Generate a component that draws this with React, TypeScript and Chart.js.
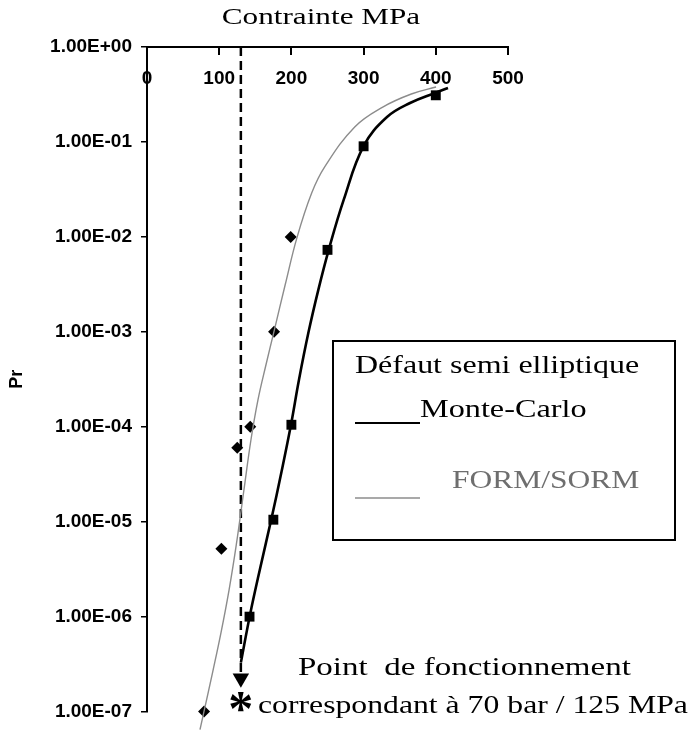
import React, { useEffect, useRef } from 'react';
import { Chart, registerables } from 'chart.js';

Chart.register(...registerables);

// ---- data ----
const xTickValues = [0, 100, 200, 300, 400, 500];
const yTickValues = [1e-7, 1e-6, 1e-5, 1e-4, 1e-3, 1e-2, 1e-1, 1];

// Monte-Carlo markers (squares)
const monteCarloStress = [142, 175, 200, 250, 300, 400];
const monteCarloPr = [1e-6, 1.05e-5, 1.05e-4, 7.3e-3, 9e-2, 0.31];

// FORM/SORM markers (diamonds)
const formStress = [79, 103, 125, 143, 176, 199];
const formPr = [1e-7, 5.2e-6, 6e-5, 1e-4, 1e-3, 1e-2];

// Monte-Carlo fitted curve (thick black)
const monteCarloCurveStress = [130, 142.7, 157.2, 172.4, 186.3, 199.4, 210.5, 223.8, 237.3, 251.7, 272.4, 300.1, 332.4, 364.3, 398.9, 416.9];
const monteCarloCurvePr = [3.28e-7, 1.05e-6, 3.36e-6, 1.08e-5, 3.36e-5, 1.05e-4, 3.13e-4, 1e-3, 2.77e-3, 7.3e-3, 2.45e-2, 9.08e-2, 0.183, 0.257, 0.328, 0.37];

// FORM/SORM fitted curve (thin grey)
const formCurveStress = [73.4, 78.9, 91.1, 102.5, 113.7, 123.7, 134.3, 144, 153.7, 164.8, 176.2, 191.4, 208, 228.1, 246.1, 287.7, 326.5, 366.1, 400.3];
const formCurvePr = [6.47e-8, 1e-7, 2.64e-7, 6.79e-7, 1.92e-6, 5.73e-6, 2.17e-5, 7.3e-5, 1.92e-4, 4.5e-4, 1.03e-3, 3.13e-3, 1e-2, 2.9e-2, 5.46e-2, 0.144, 0.233, 0.32, 0.379];

// Operating point (70 bar / 125 MPa)
const operatingStress = [130, 130];
const operatingLinePr = [1, 2.25e-7];
const operatingMarkPr = 1.34e-7;

const titleText = 'Contrainte MPa';
const yTitleText = 'Pr';
const legendTitle = 'Défaut semi elliptique';
const legendMonteCarlo = 'Monte-Carlo';
const legendForm = 'FORM/SORM';
const noteLine1 = 'Point  de fonctionnement';
const noteLine2 = 'correspondant à 70 bar / 125 MPa';

const toPoints = (xs: number[], ys: number[]) => xs.map((x, i) => ({ x, y: ys[i] }));

const fmtExp = (v: number) => {
  const e = Math.round(Math.log10(v));
  const m = v / Math.pow(10, e);
  return m.toFixed(2) + 'E' + (e < 0 ? '-' : '+') + String(Math.abs(e)).padStart(2, '0');
};

const SERIF = '"Liberation Serif", "Times New Roman", serif';
const SANS = '"Liberation Sans", Arial, sans-serif';

function drawStretched(ctx: CanvasRenderingContext2D, text: string, x: number, y: number, size: number, sx: number, align: CanvasTextAlign, color: string, weight = 'normal') {
  ctx.save();
  ctx.font = `${weight} ${size}px ${SERIF}`;
  ctx.fillStyle = color;
  ctx.textBaseline = 'alphabetic';
  ctx.textAlign = align;
  ctx.translate(x, y);
  ctx.scale(sx, 1);
  ctx.fillText(text, 0, 0);
  ctx.restore();
}

const annotationPlugin = {
  id: 'annotations',
  afterDraw(chart: any) {
    const ctx: CanvasRenderingContext2D = chart.ctx;
    const xs = chart.scales.x;
    const ys = chart.scales.y;
    const top = chart.chartArea.top;

    // inward tick marks on the top axis
    ctx.save();
    ctx.fillStyle = '#000';
    xTickValues.forEach((v) => {
      const px = Math.round(xs.getPixelForValue(v));
      ctx.fillRect(px - 1, top - 1, 2, 9);
    });
    ctx.restore();

    // title
    drawStretched(ctx, titleText, 321, 24, 24, 1.3, 'center', '#000');

    // legend box
    ctx.save();
    ctx.strokeStyle = '#000';
    ctx.lineWidth = 2;
    ctx.strokeRect(333, 341, 342, 199);
    ctx.restore();
    drawStretched(ctx, legendTitle, 355, 373, 26, 1.23, 'left', '#000');
    drawStretched(ctx, legendMonteCarlo, 420, 417, 26, 1.24, 'left', '#000');
    drawStretched(ctx, legendForm, 452, 488, 25, 1.26, 'left', '#6e6e6e');
    ctx.save();
    ctx.strokeStyle = '#000';
    ctx.lineWidth = 2;
    ctx.beginPath();
    ctx.moveTo(355, 423);
    ctx.lineTo(420, 423);
    ctx.stroke();
    ctx.strokeStyle = '#8c8c8c';
    ctx.lineWidth = 1.5;
    ctx.beginPath();
    ctx.moveTo(355, 498);
    ctx.lineTo(420, 498);
    ctx.stroke();
    ctx.restore();

    // operating point note
    drawStretched(ctx, noteLine1, 298, 675, 26, 1.27, 'left', '#000');
    drawStretched(ctx, noteLine2, 258, 713, 26, 1.22, 'left', '#000');

    // asterisk at the operating point
    const ax = xs.getPixelForValue(operatingStress[0]);
    const ay = ys.getPixelForValue(operatingMarkPr);
    ctx.save();
    ctx.font = `bold 50px ${SERIF}`;
    ctx.fillStyle = '#000';
    ctx.textAlign = 'center';
    ctx.textBaseline = 'alphabetic';
    ctx.fillText('*', ax, ay + 25);
    ctx.restore();
  },
};

export default function App() {
  const ref = useRef<HTMLCanvasElement | null>(null);

  useEffect(() => {
    if (!ref.current) return;
    const chart = new Chart(ref.current, {
      type: 'scatter',
      data: {
        datasets: [
          {
            label: legendForm,
            data: toPoints(formCurveStress, formCurvePr),
            showLine: true,
            borderColor: '#8c8c8c',
            borderWidth: 1.4,
            pointRadius: 0,
            tension: 0.4,
            clip: false,
          } as any,
          {
            label: legendMonteCarlo,
            data: toPoints(monteCarloCurveStress, monteCarloCurvePr),
            showLine: true,
            borderColor: '#000',
            borderWidth: 2.6,
            pointRadius: 0,
            tension: 0.4,
            clip: false,
          } as any,
          {
            label: 'operating',
            data: toPoints(operatingStress, operatingLinePr),
            showLine: true,
            borderColor: '#000',
            backgroundColor: '#000',
            borderWidth: 2.5,
            borderDash: [9, 5],
            pointRadius: [0, 9.5],
            pointStyle: 'triangle',
            pointRotation: 180,
            pointBorderWidth: 0,
            clip: false,
          } as any,
          {
            label: 'FORM points',
            data: toPoints(formStress, formPr),
            pointStyle: 'rectRot',
            pointRadius: 6,
            backgroundColor: '#000',
            borderColor: '#000',
            borderWidth: 0,
            clip: false,
          } as any,
          {
            label: 'MC points',
            data: toPoints(monteCarloStress, monteCarloPr),
            pointStyle: 'rect',
            pointRadius: 7,
            backgroundColor: '#000',
            borderColor: '#000',
            borderWidth: 0,
            clip: false,
          } as any,
        ],
      },
      options: {
        animation: false,
        responsive: false,
        devicePixelRatio: 1,
        events: [],
        layout: { padding: { left: 0, top: 0, right: 182, bottom: 20 } },
        plugins: { legend: { display: false }, tooltip: { enabled: false }, title: { display: false } },
        scales: {
          x: {
            type: 'linear',
            position: 'top',
            min: 0,
            max: 500,
            afterBuildTicks: (s: any) => {
              s.ticks = xTickValues.map((v) => ({ value: v }));
            },
            afterFit: (s: any) => {
              s.height = 47;
            },
            grid: { display: false, drawOnChartArea: false, drawTicks: false },
            border: { display: true, color: '#000', width: 2 },
            ticks: {
              mirror: true,
              padding: 20,
              color: '#000',
              font: { family: SANS, weight: 'bold', size: 19 },
              maxRotation: 0,
              autoSkip: false,
            },
          },
          y: {
            type: 'logarithmic',
            position: 'left',
            min: 1e-7,
            max: 1,
            afterBuildTicks: (s: any) => {
              s.ticks = yTickValues.map((v) => ({ value: v }));
            },
            afterFit: (s: any) => {
              s.width = 147;
            },
            grid: { drawOnChartArea: false, tickLength: 6, color: '#000', lineWidth: 1.5 },
            border: { color: '#000', width: 2 },
            ticks: {
              padding: 9,
              color: '#000',
              autoSkip: false,
              font: { family: SANS, weight: 'bold', size: 19 },
              callback: (v: any) => fmtExp(Number(v)),
            },
            title: {
              display: true,
              text: yTitleText,
              color: '#000',
              font: { family: SANS, weight: 'bold', size: 18 },
              padding: { top: 6, bottom: 0 },
            },
          },
        },
      },
      plugins: [annotationPlugin],
    });
    return () => chart.destroy();
  }, []);

  return (
    <div style={{ position: 'fixed', left: 0, top: 0, width: 690, height: 732, background: '#fff' }}>
      <canvas ref={ref} width={690} height={732} style={{ display: 'block', width: 690, height: 732 }} />
    </div>
  );
}
